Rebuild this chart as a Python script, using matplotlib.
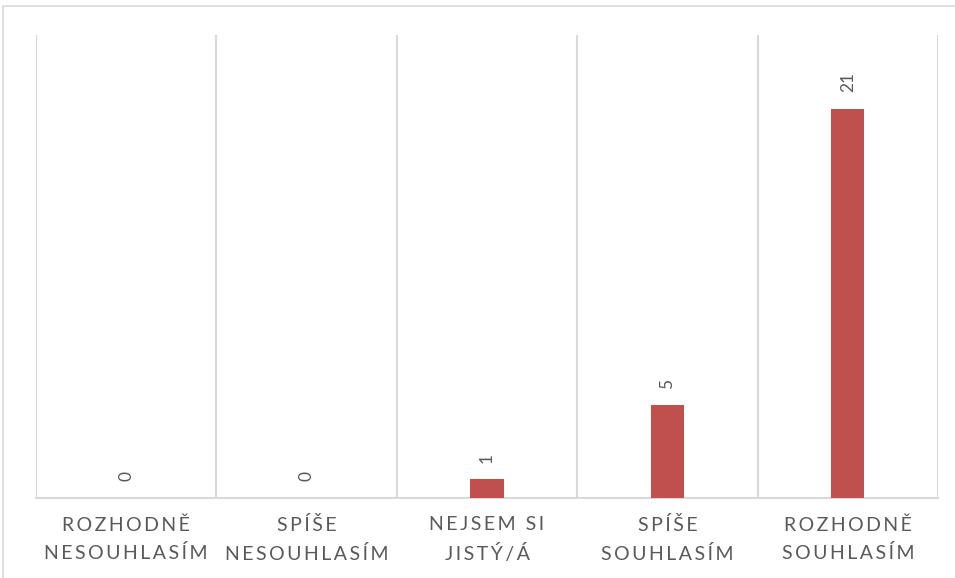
import numpy as np
import matplotlib.pyplot as plt
from matplotlib.patches import Rectangle

categories = ["ROZHODNĚ\nNESOUHLASÍM", "SPÍŠE\nNESOUHLASÍM", "NEJSEM SI\nJISTÝ/Á",
              "SPÍŠE\nSOUHLASÍM", "ROZHODNĚ\nSOUHLASÍM"]
counts = [0, 0, 1, 5, 21]

bar_color = "#C0504D"
grid_color = "#D9D9D9"
text_color = "#595959"


def spaced(label):
    # widen letter spacing the way the office theme does
    lines = []
    for line in label.split("\n"):
        words = ["\u2009".join(w) for w in line.split(" ")]
        lines.append("  ".join(words))
    return "\n".join(lines)


fig = plt.figure(figsize=(9.55, 5.78), dpi=100)
plt.rcParams['font.family'] = ['Lato', 'DejaVu Sans']

# chart area border (runs off the right and bottom edge)
fig.patches.append(Rectangle((3 / 955, -0.05), 1.1, 1 - 6 / 578 + 0.05,
                             transform=fig.transFigure, fill=False,
                             edgecolor=grid_color, linewidth=1.2))

ax = fig.add_axes([36 / 955, 1 - 498 / 578, (938 - 36) / 955, (498 - 35) / 578])
x = np.arange(len(categories))
bars = ax.bar(x, counts, width=0.185, color=bar_color, zorder=3)

ax.set_xlim(-0.5, len(categories) - 0.5)
ax.set_ylim(0, 25)
ax.set_yticks([])

ax.set_xticks(x)
ax.set_xticklabels([spaced(c) for c in categories], fontsize=14,
                   color=text_color, linespacing=1.7)
ax.set_xticks(np.arange(-0.5, len(categories), 1), minor=True)
ax.tick_params(axis='x', which='both', length=0, pad=13)
ax.grid(which='minor', axis='x', color=grid_color, linewidth=1.5, zorder=0)

for side in ['top', 'left', 'right']:
    ax.spines[side].set_visible(False)
ax.spines['bottom'].set_color(grid_color)
ax.spines['bottom'].set_linewidth(1.5)

for xi, v in zip(x, counts):
    ax.annotate(str(v), (xi, v), xytext=(0, 12), textcoords='offset points',
                rotation=90, ha='center', va='bottom', fontsize=12.5,
                color=text_color)

fig.savefig("out.png", dpi=100)
